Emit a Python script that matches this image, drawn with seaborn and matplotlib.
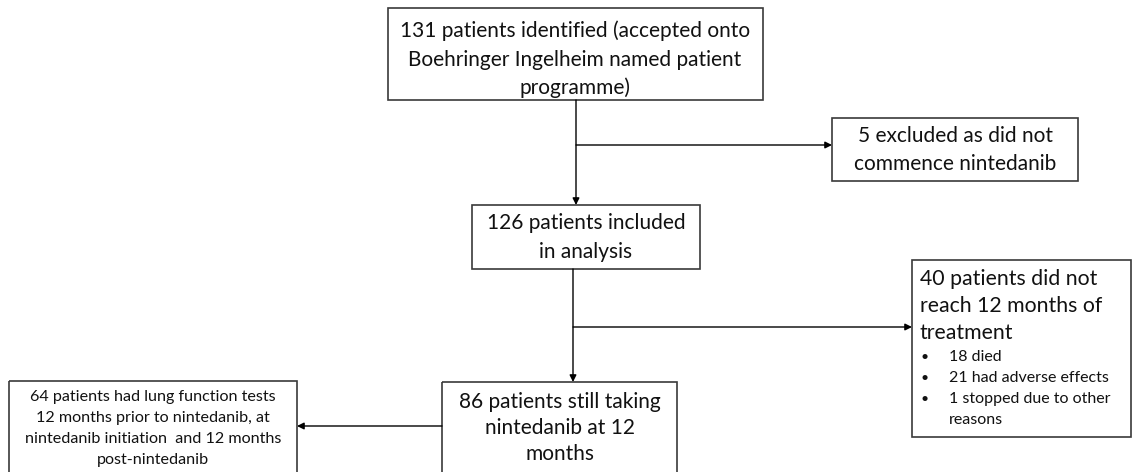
import seaborn as sns
import matplotlib.pyplot as plt
from matplotlib.patches import Rectangle

# flow chart content
identified = ["131 patients identified (accepted onto",
              "Boehringer Ingelheim named patient",
              "programme)"]
excluded = ["5 excluded as did not", "commence nintedanib"]
included = ["126 patients included", "in analysis"]
stopped_head = ["40 patients did not", "reach 12 months of", "treatment"]
stopped_reasons = ["18 died", "21 had adverse effects", "1 stopped due to other", "reasons"]
still_taking = ["86 patients still taking", "nintedanib at 12", "months"]
lung_tests = ["64 patients had lung function tests",
              "12 months prior to nintedanib, at",
              "nintedanib initiation  and 12 months",
              "post-nintedanib"]

sns.set_theme(style="white")
plt.rcParams['font.family'] = ['Lato', 'DejaVu Sans']

fig = plt.figure(figsize=(11.32, 4.72), dpi=100)
ax = fig.add_axes([0, 0, 1, 1])
ax.set_xlim(0, 1132)
ax.set_ylim(472, 0)
ax.axis("off")

EDGE = "#3a3a3a"
TXT = "#111111"


def box(x0, y0, x1, y1):
    ax.add_patch(Rectangle((x0, y0), x1 - x0, y1 - y0, fill=False,
                           edgecolor=EDGE, lw=1.2, clip_on=False))


def centered(lines, xc, y0, step, size):
    for i, s in enumerate(lines):
        ax.text(xc, y0 + i * step, s, ha="center", va="center",
                fontsize=size, color=TXT)


def arrow(x0, y0, x1, y1):
    ax.annotate("", xy=(x1, y1), xytext=(x0, y0),
                arrowprops=dict(arrowstyle="-|>", color="black", lw=1,
                                mutation_scale=10, shrinkA=0, shrinkB=0))


# boxes
box(388, 8, 763, 100)
centered(identified, 575, 31, 28.5, 15)

box(832, 118, 1078, 181)
centered(excluded, 955, 136, 28, 15)

box(472, 205, 700, 269)
centered(included, 586, 223, 29, 15)

box(912, 260, 1131, 437)
for i, s in enumerate(stopped_head):
    ax.text(920, 279 + i * 27, s, ha="left", va="center", fontsize=15.3, color=TXT)
for i, s in enumerate(stopped_reasons):
    yy = 357 + i * 21
    if s != "reasons":
        ax.text(921, yy, "\u2022", ha="left", va="center", fontsize=10, color=TXT)
    ax.text(949, yy, s, ha="left", va="center", fontsize=11.5, color=TXT)

box(442, 382, 677, 480)
centered(still_taking, 560, 402, 26, 15)

box(9, 381, 297, 480)
centered(lung_tests, 153, 397, 21, 11.6)

# connectors
arrow(576, 100, 576, 205)
arrow(576, 145, 832, 145)
arrow(573, 269, 573, 382)
arrow(573, 327, 912, 327)
arrow(442, 426, 297, 426)

fig.savefig("out.png", dpi=100, facecolor="white")
